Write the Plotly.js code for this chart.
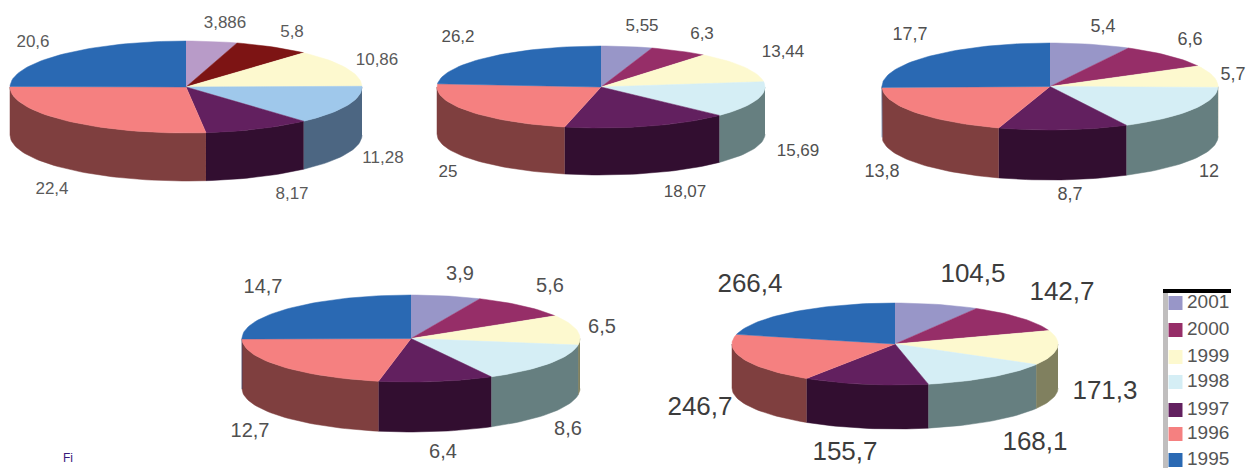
<!DOCTYPE html>
<html>
<head>
<meta charset="utf-8">
<script src="https://cdn.plot.ly/plotly-3.0.1.min.js"></script>
<style>html,body{margin:0;padding:0;background:#fff;overflow:hidden}</style>
</head>
<body>
<div id="chart" style="width:1250px;height:468px"></div>
<script>
// Years, in clockwise slice order from twelve o'clock
const years = ['2001', '2000', '1999', '1998', '1997', '1996', '1995'];

// Values of each pie, in the order of `years`
const valuesA = [3.886, 5.8, 10.86, 11.28, 8.17, 22.4, 20.6];
const valuesB = [5.55, 6.3, 13.44, 15.69, 18.07, 25, 26.2];
const valuesC = [5.4, 6.6, 5.7, 12, 8.7, 13.8, 17.7];
const valuesD = [3.9, 5.6, 6.5, 8.6, 6.4, 12.7, 14.7];
const valuesE = [104.5, 142.7, 171.3, 168.1, 155.7, 246.7, 266.4];

// Shared slice colours
const topColors = ['#9896c8', '#962e68', '#fdf9cf', '#d5eef5', '#62205f', '#f58080', '#2a69b3'];
const wallColors = ['#6d6b8f', '#6b2149', '#80805f', '#667f80', '#320e30', '#7f3f3f', '#204f85'];

// First pie uses its own tints for three slices
const topColorsA = ['#b89bc8', '#7d1414', '#fdf9cf', '#9fc8eb', '#62205f', '#f58080', '#2a69b3'];
const wallColorsA = ['#84708f', '#5a0e0e', '#80805f', '#4c6682', '#320e30', '#7f3f3f', '#204f85'];

// Pie geometry on the page-sized axes, with label anchors and font size
const pies = [
  {values: valuesA, cx: 186, cy: 87, rx: 176, ry: 46, depth: 48, tops: topColorsA, walls: wallColorsA, size: 17, ink: '#5a5a5a',
   lx: [225, 292, 377, 383, 292, 52, 33], ly: [24, 33, 61, 159, 195, 190, 43]},
  {values: valuesB, cx: 601, cy: 87, rx: 164, ry: 41, depth: 47, tops: topColors, walls: wallColors, size: 17, ink: '#505050',
   lx: [642, 702, 783, 798, 685, 448, 458], ly: [27, 35, 53, 152, 193, 173, 38]},
  {values: valuesC, cx: 1050, cy: 86.5, rx: 168, ry: 43.5, depth: 50, tops: topColors, walls: wallColors, size: 18, ink: '#505050',
   lx: [1103, 1190, 1233, 1209, 1070, 882, 910], ly: [27, 40, 75, 172, 195, 172, 35]},
  {values: valuesD, cx: 411, cy: 338.5, rx: 169, ry: 43.5, depth: 50, tops: topColors, walls: wallColors, size: 20, ink: '#505050',
   lx: [460, 550, 602, 568, 443, 250, 263], ly: [275, 287, 328, 430, 453, 432, 288]},
  {values: valuesE, cx: 895, cy: 344, rx: 163, ry: 41, depth: 44, tops: topColors, walls: wallColors, size: 26, ink: '#3c3c3c',
   lx: [973, 1062, 1105, 1035, 845, 700, 750], ly: [275, 293, 392, 443, 453, 408, 285]}
];

// Key at the lower right
const keyY = [303, 330, 357, 382, 410, 434, 460];
const keySwatchX = 1175.5;
const keyTextX = 1187;

const rad = d => d * Math.PI / 180;
const STEP = 2;

// Point on a rim at an angle measured clockwise from the top
function rim(p, deg, drop) {
  return [p.cx + p.rx * Math.sin(rad(deg)), p.cy - p.ry * Math.cos(rad(deg)) + drop];
}

function arc(p, a0, a1, drop) {
  const pts = [];
  const n = Math.max(1, Math.ceil((a1 - a0) / STEP));
  for (let i = 0; i <= n; i++) pts.push(rim(p, a0 + (a1 - a0) * i / n, drop));
  return pts;
}

function polygon(pts, color) {
  return {
    type: 'scatter', mode: 'lines', x: pts.map(q => q[0]), y: pts.map(q => q[1]),
    fill: 'toself', fillcolor: color, line: {color: color, width: 0.5},
    hoverinfo: 'skip', showlegend: false
  };
}

const traces = [];

pies.forEach(p => {
  const total = p.values.reduce((s, v) => s + v, 0);
  let run = 0;
  const spans = p.values.map(v => {
    const a0 = run / total * 360;
    run += v;
    return [a0, run / total * 360];
  });

  // Rim wall on the near half of the disc
  spans.forEach((s, i) => {
    const a0 = Math.max(s[0], 90), a1 = Math.min(s[1], 270);
    if (a1 <= a0) return;
    traces.push(polygon(arc(p, a0, a1, 0).concat(arc(p, a0, a1, p.depth).reverse()), p.walls[i]));
  });

  // Top faces
  spans.forEach((s, i) => {
    traces.push(polygon([[p.cx, p.cy]].concat(arc(p, s[0], s[1], 0)), p.tops[i]));
  });

  // Value labels
  traces.push({
    type: 'scatter', mode: 'text', x: p.lx, y: p.ly,
    text: p.values.map(v => String(v).replace('.', ',')),
    textposition: 'middle center', cliponaxis: false,
    textfont: {family: 'Liberation Sans, Arial, sans-serif', size: p.size, color: p.ink},
    hoverinfo: 'skip', showlegend: false
  });
});

// Key swatches and year labels
traces.push({
  type: 'scatter', mode: 'markers', x: years.map(() => keySwatchX), y: keyY,
  marker: {symbol: 'square', size: 14, color: topColors, line: {width: 0}},
  hoverinfo: 'skip', showlegend: false
});
traces.push({
  type: 'scatter', mode: 'text', x: years.map(() => keyTextX), y: keyY, text: years,
  textposition: 'middle right', cliponaxis: false,
  textfont: {family: 'Liberation Sans, Arial, sans-serif', size: 19, color: '#555555'},
  hoverinfo: 'skip', showlegend: false
});

const layout = {
  width: 1250, height: 468,
  margin: {l: 0, r: 0, t: 0, b: 0},
  paper_bgcolor: '#ffffff', plot_bgcolor: '#ffffff',
  showlegend: false,
  xaxis: {range: [0, 1250], visible: false, fixedrange: true},
  yaxis: {range: [468, 0], visible: false, fixedrange: true},
  shapes: [
    {type: 'line', xref: 'x', yref: 'y', x0: 1165.5, x1: 1165.5, y0: 289, y1: 468, line: {color: '#c0bebe', width: 5}},
    {type: 'line', xref: 'x', yref: 'y', x0: 1163, x1: 1231, y0: 291, y1: 291, line: {color: '#000000', width: 4}}
  ],
  annotations: [
    {xref: 'x', yref: 'y', x: 62, y: 466, xanchor: 'left', yanchor: 'bottom', showarrow: false, text: 'Fi',
     borderpad: 0, font: {family: 'Liberation Sans, Arial, sans-serif', size: 12, color: '#3a1a7a'}}
  ]
};

Plotly.newPlot('chart', traces, layout, {staticPlot: true, displayModeBar: false});
</script>
</body>
</html>
